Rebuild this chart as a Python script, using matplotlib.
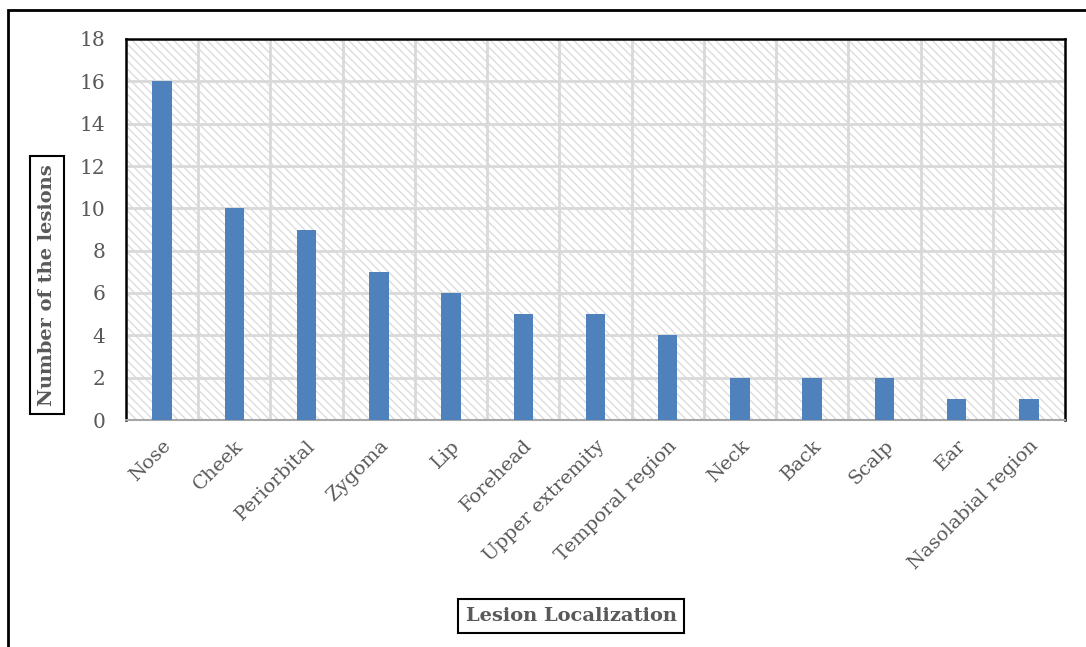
import matplotlib.pyplot as plt
from matplotlib.patches import Rectangle

# Lesion counts by anatomical site
sites = ['Nose', 'Cheek', 'Periorbital', 'Zygoma', 'Lip', 'Forehead',
         'Upper extremity', 'Temporal region', 'Neck', 'Back', 'Scalp',
         'Ear', 'Nasolabial region']
counts = [16, 10, 9, 7, 6, 5, 5, 4, 2, 2, 2, 1, 1]
y_ticks = [0, 2, 4, 6, 8, 10, 12, 14, 16, 18]

text_gray = '#595959'
grid_gray = '#d9d9d9'
bar_blue = '#4f81bd'

plt.rcParams['font.family'] = ['DejaVu Serif']
plt.rcParams['hatch.linewidth'] = 1.0

W, H = 1086, 647
fig = plt.figure(figsize=(W / 100, H / 100), dpi=100)
ax = fig.add_axes([126 / W, 1 - 420 / H, (1065 - 126) / W, (420 - 39) / H])

# hatched plot background
ax.add_patch(Rectangle((0, 0), 1, 1, transform=ax.transAxes, facecolor='white',
                       edgecolor='#dcdcdc', linewidth=0, hatch='\\\\\\\\', zorder=0))

x = list(range(len(sites)))
ax.bar(x, counts, width=0.27, color=bar_blue, zorder=3)

ax.set_xlim(-0.5, len(sites) - 0.5)
ax.set_ylim(0, 18)
ax.set_yticks(y_ticks)
ax.set_yticklabels([str(t) for t in y_ticks], fontsize=14.5, color=text_gray)
ax.set_xticks(x)
ax.set_xticklabels(sites, rotation=45, ha='right', rotation_mode='anchor',
                   fontsize=14, color=text_gray)
ax.tick_params(length=0)
ax.tick_params(axis='y', pad=15)
ax.tick_params(axis='x', pad=12)

# gridlines: horizontal at each tick, vertical between categories
for t in y_ticks[1:-1]:
    ax.axhline(t, color=grid_gray, linewidth=2, zorder=1)
for b in range(1, len(sites)):
    ax.axvline(b - 0.5, color=grid_gray, linewidth=2, zorder=1)

for side in ['top', 'left', 'right']:
    ax.spines[side].set_color('black')
    ax.spines[side].set_linewidth(1.8)
ax.spines['bottom'].set_color('#a6a6a6')
ax.spines['bottom'].set_linewidth(1.5)

box = dict(boxstyle='square,pad=0.4', facecolor='white', edgecolor='black', linewidth=1.5)
fig.text(47 / W, 1 - 285 / H, 'Number of the lesions', rotation=90, ha='center',
         va='center', fontsize=14, fontweight='bold', color=text_gray, bbox=box)
fig.text(571 / W, 1 - 616 / H, 'Lesion Localization', ha='center', va='center',
         fontsize=14, fontweight='bold', color=text_gray, bbox=box)

# outer frame around the chart
fig.add_artist(Rectangle((8 / W, -0.1), 1.1, 1 - 10 / H + 0.1, transform=fig.transFigure,
                         facecolor='none', edgecolor='black', linewidth=2))

fig.savefig('out.png', dpi=100)
